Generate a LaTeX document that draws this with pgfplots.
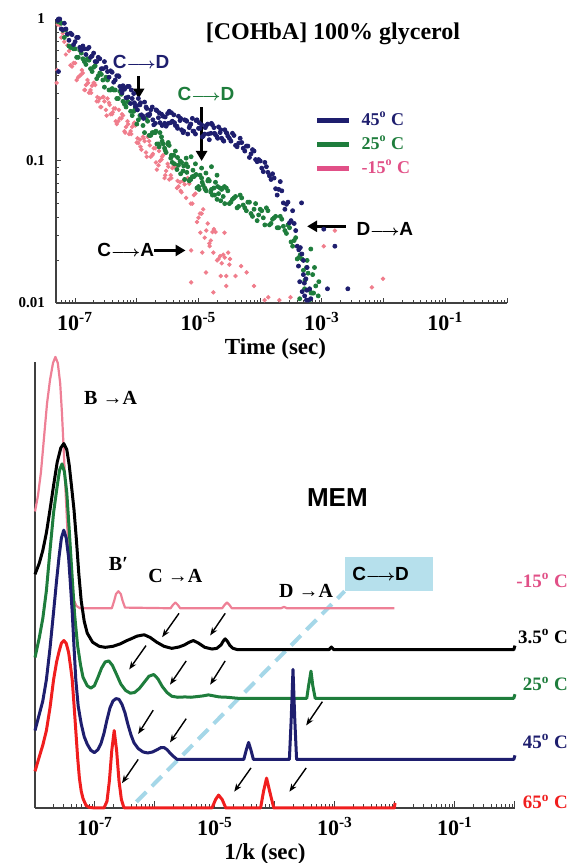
\documentclass[border=0pt]{standalone}
\usepackage{fontspec}
\setmainfont{Liberation Serif}
\newfontfamily\sansb{Liberation Sans}
\usepackage{pgfplots}
\usepackage{pgfplotstable}
\pgfplotsset{compat=1.18}
\usetikzlibrary{arrows.meta}

\definecolor{navyc}{RGB}{30,30,110}
\definecolor{greenc}{RGB}{30,125,60}
\definecolor{pinkdot}{RGB}{240,125,140}
\definecolor{pinkc}{RGB}{238,128,150}
\definecolor{pinklab}{RGB}{225,80,135}
\definecolor{redc}{RGB}{240,30,30}
\definecolor{dashblue}{RGB}{165,215,232}
\definecolor{boxblue}{RGB}{182,224,236}

\newcommand\lar{{\fontsize{7}{7}\selectfont$\boldsymbol{\longrightarrow}$}}
\usepackage{amsmath}

% minor ticks of a log axis drawn on log10 values
\pgfplotsset{
  logminorx/.style={minor xtick={-7.699,-7.523,-7.398,-7.301,-7.222,-7.155,-7.097,-7.046,
    -6.699,-6.523,-6.398,-6.301,-6.222,-6.155,-6.097,-6.046,
    -5.699,-5.523,-5.398,-5.301,-5.222,-5.155,-5.097,-5.046,
    -4.699,-4.523,-4.398,-4.301,-4.222,-4.155,-4.097,-4.046,
    -3.699,-3.523,-3.398,-3.301,-3.222,-3.155,-3.097,-3.046,
    -2.699,-2.523,-2.398,-2.301,-2.222,-2.155,-2.097,-2.046,
    -1.699,-1.523,-1.398,-1.301,-1.222,-1.155,-1.097,-1.046,
    -0.699,-0.523,-0.398,-0.301,-0.222,-0.155,-0.097,-0.046}},
}

% top panel: log10(time), log10(signal)
\pgfplotstableread{
lx ly
-7.28 -0.01
-7.27 0.00
-7.25 0.00
-7.20 -0.075
-7.15 -0.07
-7.10 -0.15
-7.05 -0.11
-7.00 -0.16
-6.95 -0.13
-6.90 -0.22
-6.85 -0.21
-6.80 -0.21
-6.75 -0.27
-6.70 -0.24
-6.65 -0.30
-6.60 -0.28
-6.55 -0.35
-6.50 -0.34
-6.45 -0.41
-6.40 -0.375
-6.35 -0.43
-6.30 -0.40
-6.25 -0.50
-6.20 -0.495
-6.15 -0.475
-6.10 -0.595
-6.05 -0.525
-6.00 -0.61
-5.95 -0.605
-5.90 -0.685
-5.85 -0.62
-5.80 -0.68
-5.75 -0.62
-5.70 -0.735
-5.65 -0.695
-5.60 -0.67
-5.55 -0.735
-5.50 -0.665
-5.45 -0.73
-5.40 -0.675
-5.35 -0.755
-5.30 -0.715
-5.25 -0.80
-5.20 -0.715
-5.15 -0.765
-5.10 -0.70
-5.05 -0.81
-5.00 -0.77
-4.95 -0.745
-4.90 -0.81
-4.85 -0.74
-4.80 -0.805
-4.75 -0.765
-4.70 -0.83
-4.65 -0.80
-4.60 -0.855
-4.55 -0.80
-4.50 -0.84
-4.45 -0.805
-4.40 -0.89
-4.35 -0.875
-4.30 -0.87
-4.25 -0.93
-4.20 -0.895
-4.15 -0.95
-4.10 -0.93
-4.05 -1.005
-4.00 -1.00
-3.95 -1.075
-3.90 -1.04
-3.85 -1.105
-3.80 -1.09
-3.75 -1.195
-3.70 -1.20
-3.65 -1.21
-3.60 -1.34
-3.55 -1.29
-3.50 -1.42
-3.45 -1.44
-3.40 -1.60
-3.35 -1.61
-3.30 -1.80
-3.26 -1.83
-3.22 -1.98
-7.225 -0.07
-7.175 -0.03
-7.125 -0.105
-7.075 -0.10
-7.025 -0.18
-6.975 -0.13
-6.925 -0.20
-6.875 -0.19
-6.825 -0.25
-6.775 -0.20
-6.725 -0.26
-6.675 -0.30
-6.625 -0.27
-6.575 -0.35
-6.525 -0.30
-6.475 -0.37
-6.425 -0.365
-6.375 -0.445
-6.325 -0.40
-6.275 -0.475
-6.225 -0.47
-6.175 -0.555
-6.125 -0.475
-6.075 -0.56
-6.025 -0.615
-5.975 -0.56
-5.925 -0.675
-5.875 -0.585
-5.825 -0.675
-5.775 -0.64
-5.725 -0.745
-5.675 -0.645
-5.625 -0.73
-5.575 -0.685
-5.525 -0.755
-5.475 -0.65
-5.425 -0.72
-5.375 -0.75
-5.325 -0.685
-5.275 -0.78
-5.225 -0.71
-5.175 -0.81
-5.125 -0.74
-5.075 -0.79
-5.025 -0.71
-4.975 -0.77
-4.925 -0.825
-4.875 -0.75
-4.825 -0.85
-4.775 -0.745
-4.725 -0.815
-4.675 -0.76
-4.625 -0.84
-4.575 -0.78
-4.525 -0.825
-4.475 -0.86
-4.425 -0.82
-4.375 -0.90
-4.325 -0.84
-4.275 -0.91
-4.225 -0.895
-4.175 -0.975
-4.125 -0.92
-4.075 -0.99
-4.025 -0.99
-3.975 -1.05
-3.925 -1.01
-3.875 -1.08
-3.825 -1.13
-3.775 -1.12
-3.725 -1.24
-3.675 -1.145
-3.625 -1.295
-3.575 -1.305
-3.525 -1.435
-3.475 -1.35
-3.425 -1.49
-3.375 -1.625
-3.325 -1.655
-3.285 -1.86
-3.245 -1.91
-6.29 -0.405
-6.24 -0.52
-6.19 -0.485
-6.14 -0.55
-6.09 -0.50
-6.04 -0.59
-5.99 -0.64
-5.94 -0.59
-5.89 -0.70
-5.84 -0.63
-5.79 -0.67
-5.74 -0.71
-5.69 -0.64
-5.64 -0.66
-5.59 -0.75
-5.54 -0.69
-5.49 -0.735
-5.44 -0.66
-5.39 -0.73
-5.34 -0.77
-5.29 -0.70
-5.24 -0.79
-5.19 -0.72
-5.14 -0.75
-5.09 -0.79
-5.04 -0.715
-4.99 -0.73
-4.94 -0.83
-4.89 -0.765
-4.84 -0.81
-4.79 -0.735
-4.74 -0.805
-4.69 -0.84
-4.64 -0.78
-4.59 -0.86
-4.54 -0.805
-3.30 -1.70
-3.24 -1.75
-3.36 -1.85
-3.20 -1.90
-3.28 -1.95
-3.18 -1.97
-3.32 -1.92
-3.25 -1.98
-3.38 -1.74
-3.33 -1.295
-2.97 -1.48
-2.79 -1.60
-2.91 -1.90
-2.58 -1.90
-7.27 -0.37
}\navytab

\pgfplotstableread{
lx ly
-7.27 -0.02
-7.25 -0.01
-7.20 -0.08
-7.15 -0.075
-7.10 -0.19
-7.05 -0.20
-7.00 -0.21
-6.95 -0.27
-6.90 -0.24
-6.85 -0.30
-6.80 -0.28
-6.75 -0.35
-6.70 -0.34
-6.65 -0.42
-6.60 -0.38
-6.55 -0.43
-6.50 -0.41
-6.45 -0.50
-6.40 -0.49
-6.35 -0.50
-6.30 -0.56
-6.25 -0.53
-6.20 -0.60
-6.15 -0.58
-6.10 -0.65
-6.05 -0.65
-6.00 -0.74
-5.95 -0.68
-5.90 -0.75
-5.85 -0.70
-5.80 -0.82
-5.75 -0.80
-5.70 -0.80
-5.65 -0.88
-5.60 -0.83
-5.55 -0.91
-5.50 -0.88
-5.45 -0.98
-5.40 -0.96
-5.35 -1.06
-5.30 -1.00
-5.25 -1.07
-5.20 -1.02
-5.15 -1.14
-5.10 -1.11
-5.05 -1.10
-5.00 -1.18
-4.95 -1.12
-4.90 -1.19
-4.85 -1.14
-4.80 -1.22
-4.75 -1.19
-4.70 -1.27
-4.65 -1.19
-4.60 -1.25
-4.55 -1.19
-4.50 -1.30
-4.45 -1.27
-4.40 -1.25
-4.35 -1.32
-4.30 -1.26
-4.25 -1.33
-4.20 -1.29
-4.15 -1.37
-4.10 -1.34
-4.05 -1.42
-4.00 -1.34
-3.95 -1.40
-3.90 -1.33
-3.85 -1.45
-3.80 -1.41
-3.75 -1.39
-3.70 -1.47
-3.65 -1.41
-3.60 -1.49
-3.55 -1.45
-3.50 -1.57
-3.45 -1.56
-3.40 -1.69
-3.35 -1.66
-3.30 -1.77
-3.25 -1.75
-3.20 -1.91
-3.15 -1.93
-7.225 -0.03
-7.175 -0.13
-7.125 -0.11
-7.075 -0.20
-7.025 -0.21
-6.975 -0.27
-6.925 -0.22
-6.875 -0.28
-6.825 -0.32
-6.775 -0.29
-6.725 -0.37
-6.675 -0.33
-6.625 -0.40
-6.575 -0.39
-6.525 -0.48
-6.475 -0.43
-6.425 -0.50
-6.375 -0.50
-6.325 -0.56
-6.275 -0.51
-6.225 -0.58
-6.175 -0.62
-6.125 -0.59
-6.075 -0.68
-6.025 -0.63
-5.975 -0.71
-5.925 -0.69
-5.875 -0.80
-5.825 -0.72
-5.775 -0.82
-5.725 -0.80
-5.675 -0.88
-5.625 -0.80
-5.575 -0.88
-5.525 -0.94
-5.475 -0.89
-5.425 -1.01
-5.375 -0.93
-5.325 -1.03
-5.275 -1.01
-5.225 -1.13
-5.175 -1.04
-5.125 -1.13
-5.075 -1.11
-5.025 -1.19
-4.975 -1.10
-4.925 -1.17
-4.875 -1.21
-4.825 -1.14
-4.775 -1.24
-4.725 -1.15
-4.675 -1.23
-4.625 -1.20
-4.575 -1.30
-4.525 -1.21
-4.475 -1.29
-4.425 -1.26
-4.375 -1.33
-4.325 -1.24
-4.275 -1.31
-4.225 -1.35
-4.175 -1.29
-4.125 -1.39
-4.075 -1.30
-4.025 -1.38
-3.975 -1.35
-3.925 -1.45
-3.875 -1.35
-3.825 -1.44
-3.775 -1.40
-3.725 -1.47
-3.675 -1.39
-3.625 -1.46
-3.575 -1.51
-3.525 -1.47
-3.475 -1.60
-3.425 -1.54
-3.375 -1.68
-3.325 -1.69
-3.275 -1.84
-3.225 -1.79
-3.175 -1.93
-3.135 -1.93
-5.69 -0.79
-5.64 -0.90
-5.59 -0.86
-5.54 -0.925
-5.49 -0.87
-5.44 -0.96
-5.39 -1.02
-5.34 -0.975
-5.29 -1.09
-5.24 -1.035
-5.19 -1.08
-5.14 -1.13
-5.09 -1.065
-5.04 -1.095
-4.99 -1.20
-4.94 -1.15
-4.89 -1.20
-4.84 -1.13
-4.79 -1.20
-4.74 -1.24
-4.69 -1.18
-4.64 -1.28
-4.88 -1.085
-4.79 -1.04
-5.12 -0.97
-4.58 -1.18
-4.95 -1.05
-5.05 -1.02
-4.70 -1.10
-5.20 -0.98
-3.15 -1.80
-3.10 -1.88
-3.28 -1.90
-3.06 -1.95
-3.20 -1.98
-3.05 -1.85
-3.36 -1.97
-3.12 -1.75
-3.24 -1.70
-3.18 -1.62
}\greentab

\pgfplotstableread{
lx ly
-7.28 -0.04
-7.30 -0.45
-7.29 -0.36
-7.25 -0.04
-7.20 -0.10
-7.15 -0.25
-7.10 -0.225
-7.05 -0.335
-7.00 -0.31
-6.95 -0.41
-6.90 -0.39
-6.85 -0.50
-6.80 -0.43
-6.75 -0.50
-6.70 -0.45
-6.65 -0.58
-6.60 -0.56
-6.55 -0.55
-6.50 -0.64
-6.45 -0.59
-6.40 -0.67
-6.35 -0.63
-6.30 -0.72
-6.25 -0.70
-6.20 -0.79
-6.15 -0.72
-6.10 -0.79
-6.05 -0.74
-6.00 -0.87
-5.95 -0.85
-5.90 -0.83
-5.85 -0.94
-5.80 -0.86
-5.75 -0.96
-5.70 -0.91
-5.65 -1.03
-5.60 -0.99
-5.55 -1.12
-5.50 -1.02
-5.45 -1.10
-5.40 -1.03
-5.35 -1.19
-5.30 -1.15
-5.25 -1.14
-5.20 -1.26
-5.15 -1.16
-5.10 -1.30
-5.05 -1.23
-5.00 -1.40
-4.95 -1.37
-4.90 -1.54
-4.85 -1.44
-4.80 -1.56
-4.75 -1.48
-4.70 -1.70
-4.65 -1.67
-4.60 -1.66
-4.55 -1.81
-4.50 -1.73
-7.225 -0.13
-7.175 -0.16
-7.125 -0.185
-7.075 -0.325
-7.025 -0.31
-6.975 -0.43
-6.925 -0.40
-6.875 -0.38
-6.825 -0.465
-6.775 -0.52
-6.725 -0.47
-6.675 -0.465
-6.625 -0.58
-6.575 -0.62
-6.525 -0.58
-6.475 -0.56
-6.425 -0.67
-6.375 -0.63
-6.325 -0.74
-6.275 -0.70
-6.225 -0.68
-6.175 -0.76
-6.125 -0.81
-6.075 -0.76
-6.025 -0.75
-5.975 -0.875
-5.925 -0.92
-5.875 -0.86
-5.825 -0.83
-5.775 -0.97
-5.725 -0.91
-5.675 -1.06
-5.625 -1.00
-5.575 -0.96
-5.525 -1.07
-5.475 -1.13
-5.425 -1.05
-5.375 -1.04
-5.325 -1.18
-5.275 -1.22
-5.225 -1.165
-5.175 -1.12
-5.125 -1.30
-5.075 -1.24
-5.025 -1.43
-4.975 -1.37
-4.925 -1.34
-4.875 -1.49
-4.825 -1.58
-4.775 -1.50
-4.725 -1.50
-4.675 -1.69
-4.625 -1.72
-4.575 -1.68
-6.89 -0.36
-6.84 -0.50
-6.79 -0.45
-6.74 -0.52
-6.69 -0.45
-6.64 -0.55
-6.59 -0.62
-6.54 -0.55
-6.49 -0.68
-6.44 -0.605
-6.39 -0.656
-6.34 -0.72
-6.29 -0.64
-6.24 -0.67
-6.19 -0.80
-6.14 -0.74
-6.09 -0.81
-6.04 -0.73
-5.99 -0.84
-5.94 -0.90
-5.89 -0.84
-5.84 -0.97
-5.79 -0.89
-5.74 -0.95
-5.69 -1.01
-5.64 -0.93
-5.59 -0.97
-5.54 -1.10
-5.49 -1.04
-5.44 -1.12
-5.39 -1.04
-5.34 -1.14
-5.29 -1.21
-5.24 -1.14
-4.76 -1.645
-4.58 -1.505
-4.52 -1.645
-4.49 -1.69
-4.64 -1.81
-4.55 -1.88
-4.76 -1.925
-4.88 -1.785
-5.12 -1.855
-4.10 -1.88
-3.87 -1.96
-3.51 -1.96
-2.79 -1.49
-2.97 -1.60
-2.19 -1.89
-2.01 -1.83
-4.31 -1.74
-4.40 -1.81
-4.82 -1.60
-4.97 -1.505
-4.94 -1.645
-4.22 -1.785
-3.93 -1.98
-3.69 -1.98
-5.12 -1.63
}\pinktab

\begin{document}
\begin{tikzpicture}
\path[use as bounding box] (0,0) rectangle (288.5pt,431.5pt);

% ---------------- top panel ----------------
\begin{axis}[
  at={(28pt,280pt)}, anchor=south west,
  scale only axis, width=225.5pt, height=142pt,
  xmin=-7.31, xmax=0, ymin=-2, ymax=0,
  axis lines=left, axis line style={-, line width=0.6pt, black!75},
  xtick={-7,-6,...,0},
  xticklabels={10\textsuperscript{-7},,10\textsuperscript{-5},,10\textsuperscript{-3},,10\textsuperscript{-1},},
  logminorx,
  ytick={-2,-1,0}, yticklabels={0.01,0.1,1},
  minor ytick={-1.699,-1.523,-1.398,-1.301,-1.222,-1.155,-1.097,-1.046,
    -0.699,-0.523,-0.398,-0.301,-0.222,-0.155,-0.097,-0.046},
  tick align=inside, major tick length=2.5pt, minor tick length=1.4pt,
  tick style={line width=0.5pt, black!75},
  x tick label style={font=\fontsize{11}{12}\selectfont\bfseries, yshift=-1pt},
  y tick label style={font=\fontsize{7.5}{8}\selectfont\bfseries, xshift=-2pt},
  xlabel={Time (sec)},
  xlabel style={font=\fontsize{11.5}{12}\selectfont\bfseries, xshift=-3pt, yshift=3pt},
  clip=false,
  legend cell align=left,
  legend image code/.code={\draw[#1] (0pt,0pt) -- (16pt,0pt);},
  legend style={at={(0.574,0.676)}, anchor=north west, draw=none, fill=none,
    inner sep=0pt, row sep=3pt, column sep=5pt,
    font=\fontsize{9}{10}\selectfont\bfseries,
    nodes={inner sep=0pt, text height=7pt, text depth=2pt}},
]
\addlegendimage{navyc, line width=2.2pt}
\addlegendentry{\textcolor{navyc}{45\textsuperscript{o} C}}
\addlegendimage{greenc, line width=2.2pt}
\addlegendentry{\textcolor{greenc}{25\textsuperscript{o} C}}
\addlegendimage{pinklab, line width=2.2pt}
\addlegendentry{\textcolor{pinklab}{-15\textsuperscript{o} C}}

\addplot[only marks, mark=*, mark size=0.9pt, pinkdot, forget plot] table[x=lx, y=ly] {\pinktab};
\addplot[only marks, mark=*, mark size=1pt, greenc, forget plot] table[x=lx, y=ly] {\greentab};
\addplot[only marks, mark=*, mark size=1pt, navyc, forget plot] table[x=lx, y=ly] {\navytab};

\node[font=\fontsize{12}{13}\selectfont\bfseries] at (axis cs:-2.82,-0.106) {[COHbA] 100\% glycerol};
\node[font=\sansb\bfseries\fontsize{9.5}{10}\selectfont, text=navyc] at (axis cs:-5.93,-0.303) {C\lar D};
\node[font=\sansb\bfseries\fontsize{9.5}{10}\selectfont, text=greenc] at (axis cs:-4.88,-0.525) {C\lar D};
\node[font=\sansb\bfseries\fontsize{9.5}{10}\selectfont] at (axis cs:-1.98,-1.48) {D\lar A};
\node[font=\sansb\bfseries\fontsize{9.5}{10}\selectfont] at (axis cs:-6.18,-1.63) {C\lar A};
\draw[-{Triangle[length=5pt,width=5.5pt]}, line width=1.5pt] (axis cs:-5.97,-0.40) -- (axis cs:-5.97,-0.56);
\draw[-{Triangle[length=5pt,width=5.5pt]}, line width=1.5pt] (axis cs:-4.95,-0.62) -- (axis cs:-4.95,-1.0);
\draw[-{Triangle[length=5pt,width=5.5pt]}, line width=1.5pt] (axis cs:-2.61,-1.46) -- (axis cs:-3.24,-1.46);
\draw[-{Triangle[length=5pt,width=5.5pt]}, line width=1.5pt] (axis cs:-5.72,-1.63) -- (axis cs:-5.21,-1.63);
\end{axis}

% ---------------- bottom panel (MEM) ----------------
\begin{axis}[
  at={(17.5pt,27.5pt)}, anchor=south west,
  scale only axis, width=240pt, height=223pt,
  xmin=-8, xmax=0, ymin=0, ymax=13.13,
  axis lines=left, axis line style={-, line width=0.6pt, black!75},
  xtick={-8,-7,...,0},
  xticklabels={,10\textsuperscript{-7},,10\textsuperscript{-5},,10\textsuperscript{-3},,10\textsuperscript{-1},},
  logminorx, ytick=\empty,
  tick align=inside, major tick length=3.5pt, minor tick length=2pt,
  tick style={line width=0.5pt, black!75},
  x tick label style={font=\fontsize{11}{12}\selectfont\bfseries, yshift=-1pt},
  xlabel={1/k (sec)},
  xlabel style={font=\fontsize{11.5}{12}\selectfont\bfseries, xshift=-5pt, yshift=3pt},
  clip=false,
  line join=round,
]
% C->D guide
\draw[dashblue, line width=2pt, dash pattern=on 7pt off 4pt] (axis cs:-6.31,0.18) -- (axis cs:-2.84,6.38);
\fill[boxblue] (axis cs:-2.84,6.38) rectangle (axis cs:-1.37,7.38);
\node[font=\sansb\bfseries\fontsize{9.5}{10}\selectfont] at (axis cs:-2.24,6.88) {C\lar D};

% -15 C
\addplot[pinkc, line width=1.1pt] coordinates {
(-8.0,8.73)(-7.95,9.2)(-7.90,9.9)(-7.85,10.9)(-7.80,11.9)(-7.75,12.6)(-7.70,13.1)(-7.66,13.28)
(-7.62,13.1)(-7.58,12.5)(-7.55,11.6)(-7.52,10.5)(-7.49,9.3)(-7.46,8.2)(-7.43,7.3)(-7.40,6.6)
(-7.36,6.15)(-7.31,5.95)(-7.25,5.88)(-6.72,5.88)(-6.68,6.1)(-6.65,6.3)(-6.61,6.38)(-6.57,6.3)
(-6.54,6.1)(-6.50,5.9)(-5.74,5.88)(-5.70,5.98)(-5.66,6.05)(-5.62,5.98)(-5.58,5.88)
(-4.88,5.88)(-4.84,5.98)(-4.80,6.05)(-4.76,5.98)(-4.72,5.88)(-3.90,5.88)(-3.85,5.92)(-3.80,5.88)(-2.01,5.88)
};
% 3.5 C
\addplot[black, line width=1.5pt] coordinates {
(-8.0,6.88)(-7.93,7.2)(-7.87,7.58)(-7.81,8.1)(-7.75,8.78)(-7.69,9.5)(-7.63,10.18)(-7.57,10.6)
(-7.52,10.73)(-7.47,10.55)(-7.43,10.1)(-7.39,9.45)(-7.35,8.78)(-7.31,7.9)(-7.27,6.9)(-7.23,6.1)
(-7.18,5.5)(-7.13,5.15)(-7.04,4.88)(-6.93,4.76)(-6.83,4.73)(-6.70,4.76)(-6.58,4.83)(-6.48,4.92)
(-6.40,4.98)(-6.30,5.06)(-6.18,5.10)(-6.08,5.02)(-5.97,4.88)(-5.85,4.76)(-5.72,4.70)(-5.60,4.74)
(-5.51,4.80)(-5.43,4.88)(-5.36,4.93)(-5.28,4.86)(-5.17,4.73)(-5.05,4.68)(-4.97,4.70)(-4.90,4.80)
(-4.86,4.92)(-4.83,4.98)(-4.79,4.90)(-4.75,4.78)(-4.70,4.70)(-4.62,4.66)(-3.10,4.66)(-3.06,4.74)
(-3.02,4.66)(-0.02,4.66)(0.0,4.78)
};
% 25 C
\addplot[greenc, line width=1.5pt] coordinates {
(-8.0,4.43)(-7.93,5.0)(-7.87,5.58)(-7.81,6.4)(-7.75,7.58)(-7.69,8.7)(-7.63,9.48)(-7.59,9.95)
(-7.55,10.13)(-7.51,9.9)(-7.47,9.28)(-7.43,8.2)(-7.38,6.78)(-7.34,5.7)(-7.29,4.78)(-7.24,4.2)
(-7.20,3.85)(-7.13,3.6)(-7.07,3.53)(-7.01,3.6)(-6.95,3.85)(-6.89,4.12)(-6.83,4.3)(-6.77,4.33)
(-6.71,4.2)(-6.64,3.93)(-6.57,3.65)(-6.49,3.46)(-6.41,3.38)(-6.34,3.40)(-6.26,3.52)(-6.18,3.7)
(-6.10,3.88)(-6.02,3.93)(-5.95,3.8)(-5.88,3.58)(-5.80,3.4)(-5.72,3.29)(-5.62,3.26)(-5.50,3.27)
(-5.40,3.26)(-5.30,3.28)(-5.20,3.30)(-5.11,3.33)(-5.02,3.30)(-4.93,3.27)(-4.80,3.26)(-4.62,3.23)
(-3.47,3.23)(-3.44,3.6)(-3.40,4.03)(-3.37,3.6)(-3.33,3.23)(-0.02,3.23)(0.0,3.35)
};
% 45 C
\addplot[navyc, line width=1.5pt] coordinates {
(-8.0,2.28)(-7.93,2.75)(-7.87,3.15)(-7.81,3.78)(-7.75,4.7)(-7.69,5.78)(-7.64,6.7)(-7.60,7.38)
(-7.56,7.95)(-7.52,8.18)(-7.48,7.95)(-7.44,7.38)(-7.41,6.6)(-7.38,5.78)(-7.35,4.75)(-7.32,3.78)
(-7.28,3.0)(-7.23,2.48)(-7.18,2.1)(-7.13,1.88)(-7.07,1.7)(-7.01,1.63)(-6.95,1.72)(-6.90,1.9)
(-6.85,2.2)(-6.80,2.6)(-6.75,2.95)(-6.70,3.15)(-6.65,3.22)(-6.60,3.2)(-6.55,3.05)(-6.50,2.8)
(-6.45,2.45)(-6.40,2.15)(-6.35,1.92)(-6.28,1.75)(-6.20,1.65)(-6.12,1.62)(-6.04,1.65)(-5.96,1.72)
(-5.90,1.78)(-5.85,1.78)(-5.80,1.72)(-5.74,1.6)(-5.68,1.5)(-5.63,1.43)(-4.52,1.43)(-4.48,1.7)
(-4.44,1.93)(-4.40,1.7)(-4.36,1.43)(-3.76,1.43)(-3.73,2.6)(-3.70,4.08)(-3.67,2.6)(-3.64,1.43)
(-0.02,1.43)(0.0,1.55)
};
% 65 C
\addplot[redc, line width=1.5pt] coordinates {
(-8.0,1.08)(-7.93,1.5)(-7.87,1.85)(-7.81,2.28)(-7.75,2.95)(-7.69,3.78)(-7.64,4.3)(-7.60,4.6)
(-7.56,4.85)(-7.52,4.93)(-7.48,4.85)(-7.44,4.58)(-7.41,4.2)(-7.38,3.78)(-7.35,3.05)(-7.32,2.28)
(-7.29,1.5)(-7.26,0.88)(-7.23,0.5)(-7.20,0.28)(-7.15,0.08)(-7.10,0.02)(-7.00,0.0)(-6.85,0.0)
(-6.80,0.2)(-6.76,0.8)(-6.72,1.7)(-6.68,2.28)(-6.64,1.7)(-6.60,0.8)(-6.56,0.25)(-6.52,0.02)
(-6.50,0.0)(-5.05,0.0)(-4.99,0.25)(-4.94,0.38)(-4.88,0.25)(-4.82,0.0)(-4.24,0.0)(-4.19,0.5)
(-4.14,0.88)(-4.09,0.5)(-4.02,0.0)(-2.01,0.0)(-2.0,0.15)
};

% arrows
\begin{scope}[-{Stealth[length=4pt,width=3pt]}, line width=0.7pt]
\draw (axis cs:-5.60,5.73) -- (axis cs:-5.88,5.03);
\draw (axis cs:-4.83,5.73) -- (axis cs:-5.08,5.08);
\draw (axis cs:-6.15,4.78) -- (axis cs:-6.43,4.08);
\draw (axis cs:-5.48,4.33) -- (axis cs:-5.75,3.63);
\draw (axis cs:-4.83,4.33) -- (axis cs:-5.08,3.63);
\draw (axis cs:-3.21,3.13) -- (axis cs:-3.48,2.43);
\draw (axis cs:-6.03,2.88) -- (axis cs:-6.28,2.18);
\draw (axis cs:-5.48,2.63) -- (axis cs:-5.75,1.93);
\draw (axis cs:-6.28,1.43) -- (axis cs:-6.55,0.73);
\draw (axis cs:-4.40,1.18) -- (axis cs:-4.68,0.48);
\draw (axis cs:-3.48,1.18) -- (axis cs:-3.76,0.48);
\end{scope}

% labels
\node[font=\fontsize{10}{11}\selectfont\bfseries] at (axis cs:-6.74,12.08) {B →A};
\node[font=\fontsize{10}{11}\selectfont\bfseries] at (axis cs:-6.61,7.18) {B′};
\node[font=\fontsize{10}{11}\selectfont\bfseries] at (axis cs:-5.66,6.83) {C →A};
\node[font=\fontsize{10}{11}\selectfont\bfseries] at (axis cs:-3.48,6.38) {D →A};
\node[font=\sansb\bfseries\fontsize{13}{14}\selectfont] at (axis cs:-2.96,9.13) {MEM};
\begin{scope}[every node/.style={anchor=east, font=\fontsize{9.5}{10}\selectfont\bfseries}]
\node[text=pinklab] at (axis cs:1.0,6.70) {-15\textsuperscript{o} C};
\node[text=black] at (axis cs:1.0,5.05) {3.5\textsuperscript{o} C};
\node[text=greenc] at (axis cs:1.0,3.65) {25\textsuperscript{o} C};
\node[text=navyc] at (axis cs:1.0,1.95) {45\textsuperscript{o} C};
\node[text=redc] at (axis cs:1.0,0.18) {65\textsuperscript{o} C};
\end{scope}
\end{axis}
\end{tikzpicture}
\end{document}
